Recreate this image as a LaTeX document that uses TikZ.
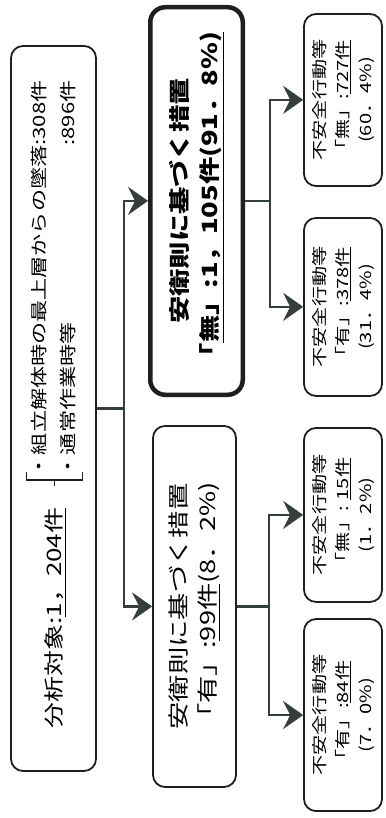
\documentclass[tikz,border=0pt]{standalone}
\usepackage{fontspec}
\setmainfont{Noto Sans CJK JP}
\usepackage{tikz}
\usetikzlibrary{positioning,calc,arrows.meta}
\definecolor{linegray}{RGB}{52,62,60}
\definecolor{boxgray}{RGB}{30,32,32}

\begin{document}
\begin{tikzpicture}[
    x=1pt, y=1pt,
    box/.style={draw=boxgray, line width=1.8pt, rectangle, rounded corners=12pt, align=center},
    bigbox/.style={box, font=\fontsize{21}{29}\selectfont},
    mainbox/.style={box, line width=4.5pt, rounded corners=15pt, font=\fontsize{21}{30}\selectfont\bfseries},
    smallbox/.style={box, minimum height=78pt, font=\fontsize{15.5}{23}\selectfont},
    link/.style={draw=linegray, line width=2.4pt},
    arrow/.style={link, -{Stealth[length=20pt, width=28pt, inset=7pt]}}
]
\fill[white] (0,0) rectangle (385,818);
\useasboundingbox (0,0) rectangle (385,818);

\begin{scope}[rotate=90, xscale=1.3, transform shape]

% Target
\node[box, minimum width=557.7pt, minimum height=85pt] (total) at (315,-53.5) {};
\node[font=\fontsize{20}{24}\selectfont] (count) at (153.8,-55) {分析対象:\underline{1，204件}};
\node[anchor=west, inner sep=0pt, font=\fontsize{17}{29}\selectfont] (cases) at (262,-54.5) {%
    \begin{tabular}{@{}l@{}l@{}}
        ・組立解体時の最上層からの墜落 & :308件\\
        ・通常作業時等 & :896件
    \end{tabular}};
\draw[boxgray, line width=1.2pt] ($(cases.west)+(4,28)$) -- ++(-6,0) -- ++(0,-56) -- ++(6,0);
\draw[boxgray, line width=1.2pt] ($(cases.west)+(-2,0)$) -- ++(-5,0);

% Measures
\node[bigbox, minimum width=277.7pt, minimum height=83pt] (rule_yes) at (162.7,-194.5) {安衛則に基づく措置\\「有」:\underline{99件}(8．2\%)};
\node[mainbox, minimum width=298.1pt, minimum height=92.5pt] (rule_no) at (474.6,-196.5) {安衛則に基づく措置\\「\underline{無」:1，105件(91．8\%)}};

% Unsafe acts
\node[smallbox, minimum width=147.7pt] (yes_act_yes) at (79.2,-343) {不安全行動等\\「有」:\underline{84件}\\(7．0\%)};
\node[smallbox, minimum width=133.8pt] (yes_act_no) at (233.1,-343) {不安全行動等\\「無」: \underline{15件}\\(1．2\%)};
\node[smallbox, minimum width=136.9pt] (no_act_yes) at (393.1,-343) {不安全行動等\\「有」:\underline{378件}\\(31．4\%)};
\node[smallbox, minimum width=132.3pt] (no_act_no) at (552.3,-343) {不安全行動等\\「無」:\underline{727件}\\(60．4\%)};

% Connections
\draw[link] (total.south) -- ++(0,-27) coordinate (split_total);
\draw[arrow] (split_total) -| (rule_yes.north);
\draw[arrow] (split_total) -| (rule_no.north);
\draw[link] (rule_yes.south) -- ++(0,-32) coordinate (split_yes);
\draw[arrow] (split_yes) -| (yes_act_yes.north);
\draw[arrow] (split_yes) -| (yes_act_no.north);
\draw[link] (rule_no.south) -- ++(0,-25) coordinate (split_no);
\draw[arrow] (split_no) -| (no_act_yes.north);
\draw[arrow] (split_no) -| (no_act_no.north);

\end{scope}
\end{tikzpicture}
\end{document}
